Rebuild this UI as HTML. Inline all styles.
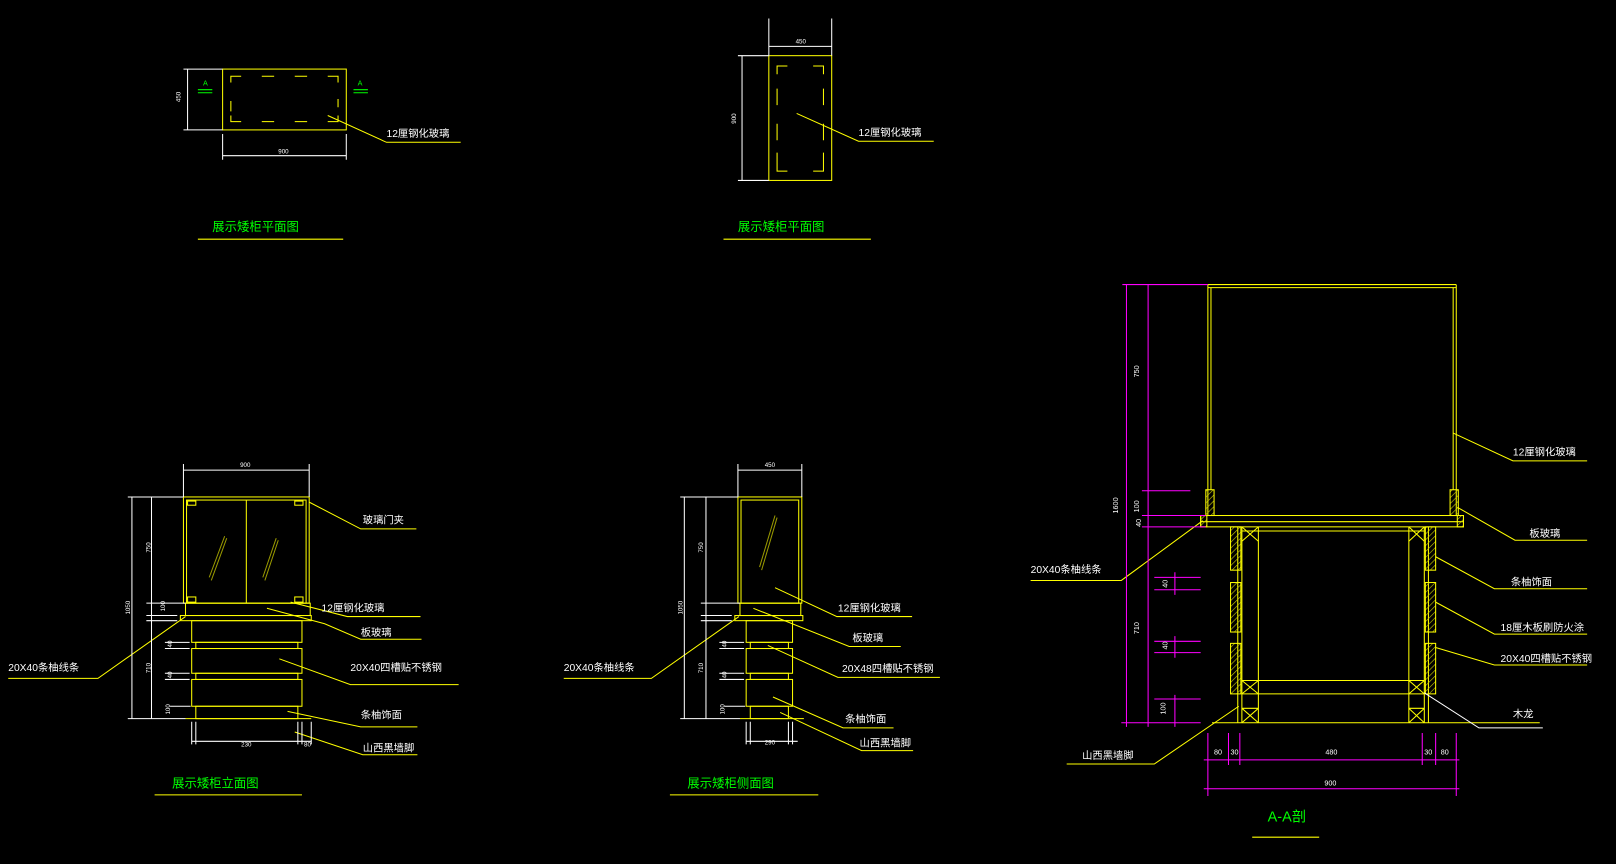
<!DOCTYPE html>
<html><head><meta charset="utf-8"><style>
html,body{margin:0;padding:0;background:#000;overflow:hidden}
svg{display:block}
text{font-family:"Liberation Sans","Noto Sans CJK SC",sans-serif}
</style></head><body>
<svg width="1616" height="864" viewBox="0 0 1568 838" preserveAspectRatio="none" xmlns="http://www.w3.org/2000/svg">
<defs>
<pattern id="h" width="4" height="4" patternUnits="userSpaceOnUse" patternTransform="rotate(45)"><line x1="0" y1="0" x2="0" y2="4" stroke="#cccc00" stroke-width="1.2"/></pattern>
</defs>
<rect width="1568" height="838" fill="#000"/>
<g fill="none" stroke-width="1">
<!-- ========== plan 1 ========== -->
<g stroke="#ffff00">
<rect x="216" y="67" width="120" height="59"/>
<path d="M224 80v-6h10M254 74h12M286 74h12M318 74h10v6M224 98v10M224 112v6h10M254 118h12M286 118h12M318 118h10v-6M328 96v8"/>
<path d="M318 112L375 138H447"/>
</g>
<g stroke="#fff">
<path d="M182 67v59M178 67h38M178 126h38M216 151h120M216 130v25M336 130v25"/>
</g>
<g stroke="#00ff00"><path d="M192 87h14M192 90h14M343 87h14M343 90h14"/></g>
<text x="197" y="83" fill="#00ff00" font-size="7">A</text>
<text x="347" y="83" fill="#00ff00" font-size="7">A</text>
<text x="170" y="100" fill="#fff" font-size="6" transform="rotate(-90 172 97)">450</text>
<text x="270" y="149" fill="#fff" font-size="6">900</text>
<text x="375" y="133" fill="#fff" font-size="10">12厘钢化玻璃</text>
<text x="206" y="224" fill="#00ff00" font-size="12">展示矮柜平面图</text>
<path d="M192 232H333" stroke="#ffff00"/>
<!-- ========== plan 2 ========== -->
<g stroke="#ffff00">
<rect x="746" y="54" width="61" height="121"/>
<path d="M754 72v-8h10M789 64h10v8M799 86v16M754 86v16M754 120v16M799 120v16M754 148v18h10M789 166h10v-18"/>
<path d="M773 110L833 137H906"/>
</g>
<g stroke="#fff"><path d="M746 45h61M746 18v36M807 18v36M720 54v121M716 54h30M716 175h30"/></g>
<text x="772" y="42" fill="#fff" font-size="6">450</text>
<text x="706" y="118" fill="#fff" font-size="6" transform="rotate(-90 711 115)">900</text>
<text x="833" y="132" fill="#fff" font-size="10">12厘钢化玻璃</text>
<text x="716" y="224" fill="#00ff00" font-size="12">展示矮柜平面图</text>
<path d="M702 232H845" stroke="#ffff00"/>

<!-- ========== front elevation ========== -->
<g stroke="#ffff00">
<rect x="178" y="482" width="122" height="103"/>
<rect x="181" y="485" width="116" height="100"/>
<path d="M239 485v100"/>
<rect x="182" y="486" width="8" height="4"/><rect x="286" y="486" width="8" height="4"/>
<rect x="182" y="579" width="8" height="5"/><rect x="286" y="579" width="8" height="5"/>
<rect x="180" y="585" width="121" height="12"/>
<rect x="175" y="597" width="127" height="5"/>
<rect x="186" y="602" width="107" height="21"/>
<rect x="190" y="623" width="99" height="6"/>
<rect x="186" y="629" width="107" height="24"/>
<rect x="190" y="653" width="99" height="6"/>
<rect x="186" y="659" width="107" height="26"/>
<rect x="190" y="685" width="99" height="12"/>
<path d="M180 697H302"/>
<path d="M300 487L350 513H404M282 584L337 598H408M259 590L315 605L350 620H409M271 639L340 664H445M279 690L350 705H405M286 710L352 732H405M180 598L95 658H8"/>
</g>
<g stroke="#999900"><path d="M218 520L203 560M220 522L205 563M268 522L255 560M270 524L257 563"/></g>
<g stroke="#fff">
<path d="M178 456h122M178 450v32M300 450v32M128 482v215M147 482v215M124 482h54M124 697h56M142 585h38M142 597h30M142 602h30M160 623h24M160 629h24M160 653h24M160 659h24M165 685h20M186 700v22M190 700v22M289 700v22M293 700v22M302 700v22M186 719h116"/>
</g>
<g fill="#fff" font-size="6">
<text x="233" y="453">900</text>
<text x="140" y="536" transform="rotate(-90 143 533)">750</text>
<text x="120" y="596" transform="rotate(-90 123 593)">1050</text>
<text x="140" y="653" transform="rotate(-90 143 650)">710</text>
<text x="154" y="593" transform="rotate(-90 157 590)">100</text>
<text x="161" y="628" transform="rotate(-90 164 625)">40</text>
<text x="161" y="658" transform="rotate(-90 164 655)">40</text>
<text x="159" y="693" transform="rotate(-90 162 690)">100</text>
<text x="234" y="724">230</text>
<text x="295" y="724">80</text>
</g>
<g fill="#fff" font-size="10">
<text x="352" y="508">玻璃门夹</text>
<text x="312" y="593">12厘钢化玻璃</text>
<text x="350" y="617">板玻璃</text>
<text x="340" y="651">20X40四槽贴不锈钢</text>
<text x="350" y="697">条柚饰面</text>
<text x="352" y="729">山西黑墙脚</text>
<text x="8" y="651">20X40条柚线条</text>
</g>
<text x="167" y="764" fill="#00ff00" font-size="12">展示矮柜立面图</text>
<path d="M150 771H293" stroke="#ffff00"/>

<!-- ========== side elevation ========== -->
<g stroke="#ffff00">
<rect x="716" y="482" width="62" height="103"/>
<rect x="719" y="485" width="56" height="100"/>
<rect x="718" y="585" width="59" height="12"/>
<rect x="713" y="597" width="66" height="5"/>
<rect x="724" y="602" width="45" height="21"/>
<rect x="728" y="623" width="37" height="6"/>
<rect x="724" y="629" width="45" height="24"/>
<rect x="728" y="653" width="37" height="6"/>
<rect x="724" y="659" width="45" height="26"/>
<rect x="728" y="685" width="37" height="12"/>
<path d="M718 697H780"/>
<path d="M752 570L812 598H885M731 590L824 627H874M745 626L813 657H912M750 676L818 706H867M757 691L836 728H886M717 598L632 658H547"/>
</g>
<g stroke="#999900"><path d="M752 500L737 550M754 502L739 553"/></g>
<g stroke="#fff">
<path d="M716 456h62M716 450v32M778 450v32M664 482v215M685 482v215M660 482h56M660 697h58M680 585h38M680 597h30M680 602h30M698 623h24M698 629h24M698 653h24M698 659h24M703 685h20M724 700v22M728 700v22M765 700v22M769 700v22M724 719h50"/>
</g>
<g fill="#fff" font-size="6">
<text x="742" y="453">450</text>
<text x="676" y="536" transform="rotate(-90 679 533)">750</text>
<text x="656" y="596" transform="rotate(-90 659 593)">1050</text>
<text x="676" y="653" transform="rotate(-90 679 650)">710</text>
<text x="699" y="628" transform="rotate(-90 702 625)">40</text>
<text x="699" y="658" transform="rotate(-90 702 655)">40</text>
<text x="697" y="693" transform="rotate(-90 700 690)">100</text>
<text x="742" y="722">290</text>
</g>
<g fill="#fff" font-size="10">
<text x="813" y="593">12厘钢化玻璃</text>
<text x="827" y="622">板玻璃</text>
<text x="817" y="652">20X48四槽贴不锈钢</text>
<text x="820" y="701">条柚饰面</text>
<text x="834" y="724">山西黑墙脚</text>
<text x="547" y="651">20X40条柚线条</text>
</g>
<text x="667" y="764" fill="#00ff00" font-size="12">展示矮柜侧面图</text>
<path d="M650 771H794" stroke="#ffff00"/>

<!-- ========== section A-A ========== -->
<g stroke="#ffff00">
<path d="M1172 276H1413M1172 279H1413M1172 276V500M1175 279V475M1413 276V500M1410 279V475"/>
<rect x="1170" y="475" width="8" height="25" fill="url(#h)"/>
<rect x="1407" y="475" width="8" height="25" fill="url(#h)"/>
<rect x="1165" y="500" width="255" height="11"/>
<path d="M1165 506H1420"/>
<rect x="1165" y="500" width="6" height="11" fill="url(#h)"/>
<rect x="1414" y="500" width="6" height="11" fill="url(#h)"/>
<path d="M1201 511V701M1205 511V701M1221 511V701M1367 511V701M1382 511V701M1386 511V701M1205 515H1382M1205 660H1382M1205 673H1382"/>
<path d="M1205 511L1221 525M1221 511L1205 525M1367 511L1382 525M1382 511L1367 525M1205 660L1221 673M1221 660L1205 673M1367 660L1382 673M1382 660L1367 673M1205 687L1221 701M1221 687L1205 701M1367 687L1382 701M1382 687L1367 701M1205 687H1221M1367 687H1382"/>
<rect x="1194" y="511" width="10" height="42" fill="url(#h)"/>
<rect x="1194" y="565" width="10" height="48" fill="url(#h)"/>
<rect x="1194" y="624" width="10" height="49" fill="url(#h)"/>
<rect x="1383" y="511" width="10" height="42" fill="url(#h)"/>
<rect x="1383" y="565" width="10" height="48" fill="url(#h)"/>
<rect x="1383" y="624" width="10" height="49" fill="url(#h)"/>
<path d="M1176 701H1494"/>
<path d="M1410 420L1468 447H1540M1414 492L1470 524H1540M1393 540L1450 571H1540M1393 584L1450 615H1540M1393 628L1450 645H1540M1167 505L1088 563H1000M1202 685L1120 741H1035"/>
</g>
<path d="M1382 672L1435 706H1497" stroke="#fff"/>
<g stroke="#ff00ff">
<path d="M1093 276V705M1114 276V705M1089 276H1172M1108 476H1155M1108 500H1170M1108 511H1170M1120 560H1165M1120 572H1165M1120 622H1165M1120 633H1165M1120 678H1165M1088 701H1165M1140 555V577M1140 617V638M1140 674V705"/>
<path d="M1172 711V772M1192 711V742M1203 711V742M1380 711V742M1393 711V742M1413 711V772M1168 737H1416M1168 765H1416"/>
</g>
<g fill="#fff" font-size="7">
<text x="1098" y="365" transform="rotate(-90 1102 362)">750</text>
<text x="1078" y="497" transform="rotate(-90 1082 494)">1600</text>
<text x="1098" y="496" transform="rotate(-90 1102 493)">100</text>
<text x="1100" y="510" transform="rotate(-90 1104 507)">40</text>
<text x="1098" y="614" transform="rotate(-90 1102 611)">710</text>
<text x="1126" y="569" transform="rotate(-90 1130 566)">40</text>
<text x="1126" y="629" transform="rotate(-90 1130 626)">40</text>
<text x="1124" y="692" transform="rotate(-90 1128 689)">100</text>
<text x="1178" y="732">80</text>
<text x="1194" y="732">30</text>
<text x="1286" y="732">480</text>
<text x="1382" y="732">30</text>
<text x="1398" y="732">80</text>
<text x="1285" y="762">900</text>
</g>
<g fill="#fff" font-size="10">
<text x="1468" y="442">12厘钢化玻璃</text>
<text x="1484" y="521">板玻璃</text>
<text x="1466" y="568">条柚饰面</text>
<text x="1456" y="612">18厘木板刷防火涂</text>
<text x="1456" y="642">20X40四槽贴不锈钢</text>
<text x="1468" y="696">木龙</text>
<text x="1000" y="556">20X40条柚线条</text>
<text x="1050" y="736">山西黑墙脚</text>
</g>
<text x="1230" y="797" fill="#00ff00" font-size="14">A-A剖</text>
<path d="M1215 812H1280" stroke="#ffff00"/>
</g>
</svg>
</body></html>
